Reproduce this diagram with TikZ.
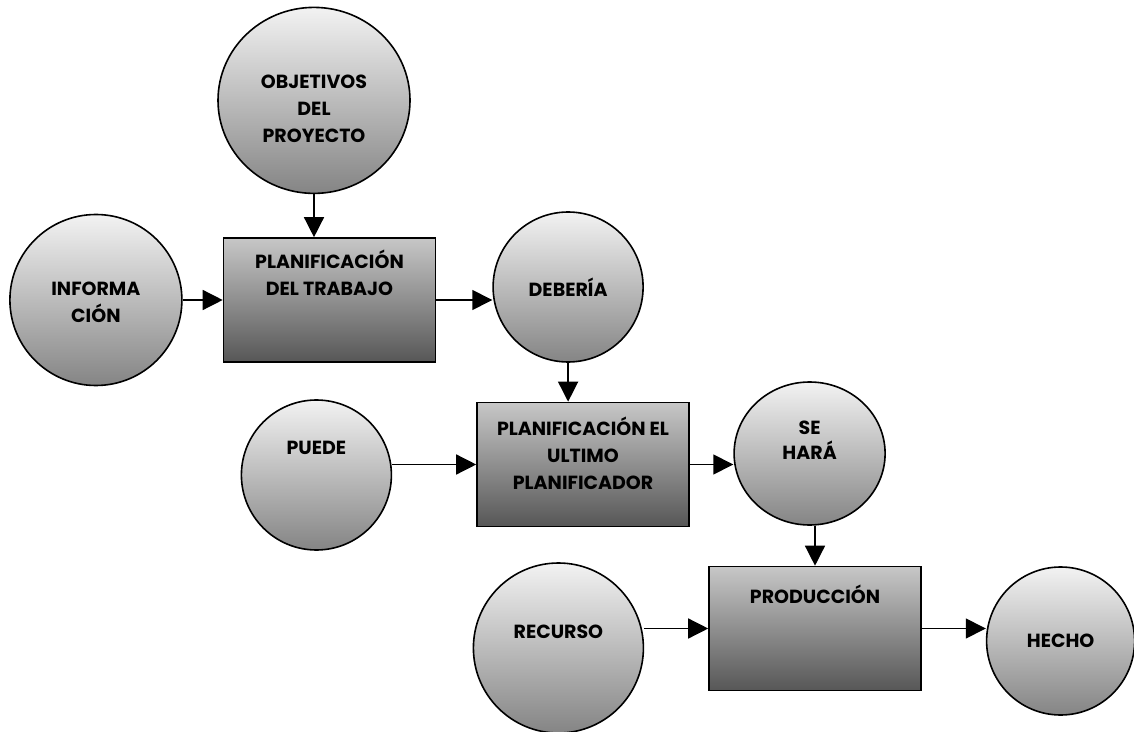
\documentclass[tikz,border=0pt]{standalone}
\usepackage{fontspec}
\setmainfont{Poppins}
\usepackage{tikz}
\usetikzlibrary{arrows.meta,positioning,shapes.geometric}
\definecolor{ballhi}{gray}{0.95}
\definecolor{balllo}{gray}{0.52}
\definecolor{boxhi}{gray}{0.78}
\definecolor{boxlo}{gray}{0.34}

\begin{document}
\begin{tikzpicture}[x=0.5pt,y=-0.5pt,
    every node/.style={font=\bfseries\fontsize{9.5}{13.5}\selectfont,align=center},
    ball/.style={ellipse,draw,line width=0.8pt,top color=ballhi,bottom color=balllo,inner sep=0pt},
    task/.style={draw,line width=0.8pt,top color=boxhi,bottom color=boxlo,
                 minimum width=106pt,minimum height=62pt},
    flow/.style={-{Triangle[length=10pt,width=10pt]},line width=0.7pt}]
  \useasboundingbox (0,0) rectangle (1134,732);
  % the three planning stages
  \node[task,label={[anchor=north,yshift=-3pt]north:PLANIFICACIÓN\\DEL TRABAJO}] (plan) at (329.5,300) {};
  \node[task,label={[anchor=north,yshift=-4pt]north:PLANIFICACIÓN EL\\ULTIMO\\PLANIFICADOR}] (lps) at (583,464.5) {};
  \node[task,label={[anchor=north,yshift=-6pt]north:PRODUCCIÓN}] (prod) at (815,628.5) {};
  % inputs and outputs
  \node[ball,minimum width=96pt,minimum height=93pt,above=21.5pt of plan,xshift=-7.75pt,
        label={[yshift=-4.25pt]center:OBJETIVOS\\DEL\\PROYECTO}] (goal) {};
  \node[ball,minimum width=86pt,minimum height=85.5pt,left=20pt of plan,
        label={[yshift=-1pt]center:INFORMA\\CIÓN}] (info) {};
  \node[ball,minimum width=75pt,minimum height=75pt,right=28pt of plan,yshift=6.5pt,
        label={center:DEBERÍA}] (should) {};
  \node[ball,minimum width=75pt,minimum height=75pt,left=42pt of lps,yshift=-5.25pt,
        label={[yshift=13.5pt]center:PUEDE}] (can) {};
  \node[ball,minimum width=75.5pt,minimum height=71.5pt,right=21.75pt of lps,yshift=5.5pt,
        label={[yshift=6.5pt]center:SE\\[-1pt]HARÁ}] (will) {};
  \node[ball,minimum width=85pt,minimum height=85pt,left=32pt of prod,yshift=-9.75pt,
        label={[yshift=8pt]center:RECURSO}] (res) {};
  \node[ball,minimum width=74pt,minimum height=74pt,right=32pt of prod,yshift=-6.25pt,
        label={center:HECHO}] (done) {};
  % flows
  \draw[flow] (goal.south) -- (goal.south |- plan.north);
  \draw[flow] (info.east) -- (plan.west);
  \draw[flow] (plan.east) -- (plan.east -| should.west);
  \draw[flow] (should.south) -- (should.south |- lps.north);
  \draw[flow] (lps.west -| can.east) -- (lps.west);
  \draw[flow] (lps.east) -- (lps.east -| will.west);
  \draw[flow] (will.south -| prod.north) -- (prod.north);
  \draw[flow] (prod.west -| res.east) -- (prod.west);
  \draw[flow] (prod.east) -- (prod.east -| done.west);
\end{tikzpicture}
\end{document}
